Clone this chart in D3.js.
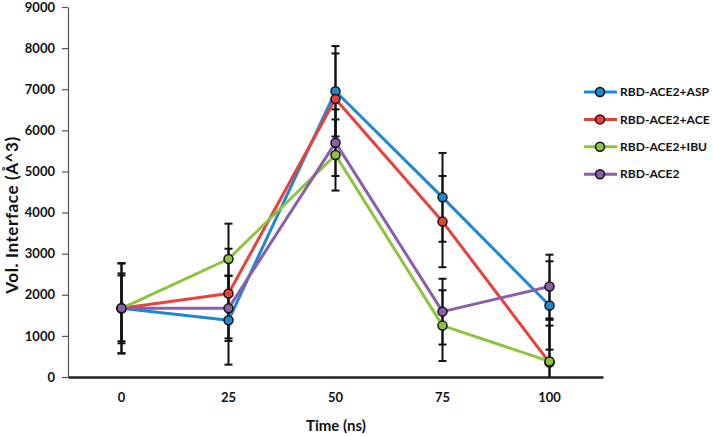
<!DOCTYPE html>
<html><head><meta charset="utf-8">
<script src="https://cdn.jsdelivr.net/npm/d3@7/dist/d3.min.js"></script>
<style>
html,body{margin:0;padding:0;background:#fff;}
svg{display:block;font-family:Lato,"Open Sans",sans-serif;font-weight:bold;}
</style></head>
<body>
<svg id="chart" width="713" height="436"></svg>
<script>
const categories = ["0", "25", "50", "75", "100"];
const yTicks = [0, 1000, 2000, 3000, 4000, 5000, 6000, 7000, 8000, 9000];
const seriesNames = ["RBD-ACE2+ASP", "RBD-ACE2+ACE", "RBD-ACE2+IBU", "RBD-ACE2"];
const aspValues  = [1670, 1380, 6950, 4370, 1740];
const aceValues  = [1670, 2030, 6760, 3780, 350];
const ibuValues  = [1670, 2870, 5400, 1250, 380];
const ace2Values = [1670, 1670, 5700, 1590, 2200];
const aspErr  = [1100, 1080, 1100, 1080, 1075];
const aceErr  = [1090, 1090, 1110, 1110, 1040];
const ibuErr  = [850, 860, 865, 860, 870];
const ace2Err = [800, 795, 810, 800, 775];
const colors = ["#1f88cf", "#e8413c", "#8cc43f", "#8a5ea8"];

const series = [
  {name: seriesNames[0], values: aspValues, err: aspErr, color: colors[0]},
  {name: seriesNames[1], values: aceValues, err: aceErr, color: colors[1]},
  {name: seriesNames[2], values: ibuValues, err: ibuErr, color: colors[2]},
  {name: seriesNames[3], values: ace2Values, err: ace2Err, color: colors[3]}
];

const svg = d3.select("#chart");
const x = d3.scaleBand().domain(categories).range([68, 603]).padding(0);
const y = d3.scaleLinear().domain([0, 9000]).range([377, 7]);
const cx = c => x(c) + x.bandwidth() / 2;

// Y axis
const yAxis = svg.append("g").attr("transform", "translate(68,0)")
  .call(d3.axisLeft(y).tickValues(yTicks).tickSize(6).tickSizeOuter(0).tickPadding(7).tickFormat(d3.format("d")));
yAxis.select(".domain").attr("stroke", "#555").attr("stroke-width", 1.2);
yAxis.selectAll(".tick line").attr("stroke", "#555").attr("stroke-width", 1.2);
yAxis.selectAll(".tick text").attr("fill", "#111").style("font-size", "13px").style("font-weight", "bold").style("font-family", "Lato, sans-serif");

// X axis
const xAxis = svg.append("g").attr("transform", "translate(0,377)")
  .call(d3.axisBottom(x).tickSize(0).tickPadding(16));
xAxis.select(".domain").attr("stroke", "#222").attr("stroke-width", 2.5);
xAxis.selectAll(".tick text").attr("fill", "#111").style("font-size", "13px").style("font-weight", "bold").style("font-family", "Lato, sans-serif");

// Axis titles
svg.append("text").attr("x", 336).attr("y", 431).attr("text-anchor", "middle")
  .attr("fill", "#111").style("font-size", "15px").text("Time (ns)");
svg.append("text").attr("transform", "translate(18,215) rotate(-90)").attr("text-anchor", "middle")
  .attr("fill", "#111").style("font-size", "17px").style("letter-spacing", "0.6px")
  .text("Vol. Interface (Å^3)");

// Error bars
const eb = svg.append("g");
series.forEach(s => {
  categories.forEach((c, i) => {
    const v = s.values[i], e = s.err[i];
    const top = y(v + e), bot = y(Math.max(0, v - e));
    eb.append("line").attr("x1", cx(c)).attr("x2", cx(c)).attr("y1", top).attr("y2", bot)
      .attr("stroke", "#111").attr("stroke-width", 2);
    eb.append("line").attr("x1", cx(c) - 4).attr("x2", cx(c) + 4).attr("y1", top).attr("y2", top)
      .attr("stroke", "#111").attr("stroke-width", 2);
    if (v - e > 0) {
      eb.append("line").attr("x1", cx(c) - 4).attr("x2", cx(c) + 4).attr("y1", bot).attr("y2", bot)
        .attr("stroke", "#111").attr("stroke-width", 2);
    }
  });
});

// Lines and markers
const line = d3.line().x((d, i) => cx(categories[i])).y(d => y(d));
series.forEach(s => {
  svg.append("path").datum(s.values).attr("d", line).attr("fill", "none")
    .attr("stroke", s.color).attr("stroke-width", 3).attr("stroke-linejoin", "round");
  svg.append("g").selectAll("circle").data(s.values).join("circle")
    .attr("cx", (d, i) => cx(categories[i])).attr("cy", d => y(d)).attr("r", 4.5)
    .attr("fill", s.color).attr("stroke", "#111").attr("stroke-width", 1.5);
});

// Legend
const lg = svg.append("g");
const legendTexts = [];
series.forEach((s, i) => {
  const yy = 92 + i * 27.4;
  lg.append("line").attr("x1", 584).attr("x2", 617).attr("y1", yy).attr("y2", yy)
    .attr("stroke", s.color).attr("stroke-width", 3);
  lg.append("circle").attr("cx", 600).attr("cy", yy).attr("r", 4.5)
    .attr("fill", s.color).attr("stroke", "#111").attr("stroke-width", 1.5);
  legendTexts.push(lg.append("text").attr("x", 620).attr("y", yy).attr("dy", "0.35em")
    .attr("fill", "#111").style("font-size", "13px").text(s.name));
});
// shrink the font so the widest label fits before the right edge
const widest = d3.max(legendTexts, t => t.node().getComputedTextLength());
if (widest > 90) {
  const fs = Math.floor(13 * 90 / widest * 10) / 10;
  legendTexts.forEach(t => t.style("font-size", fs + "px"));
}
</script>
</body></html>
